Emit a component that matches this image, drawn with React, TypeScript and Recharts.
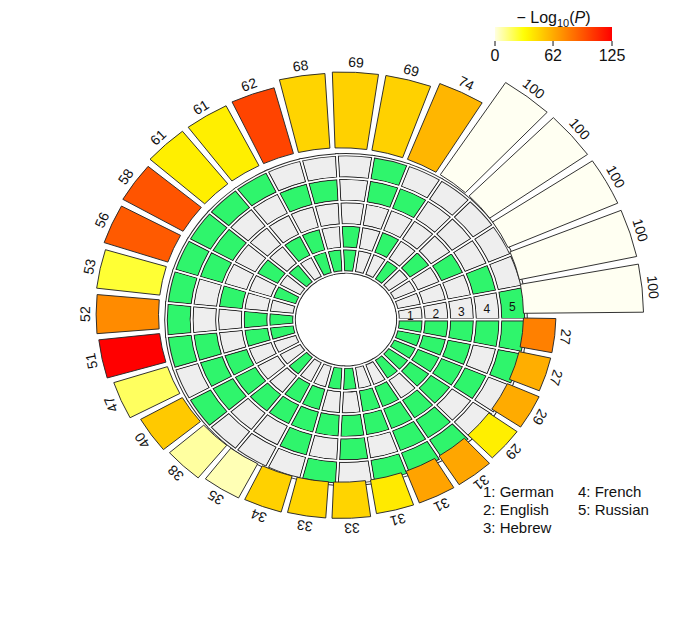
import React from 'react';
import {
  PieChart,
  Pie,
  Cell,
  RadialBarChart,
  RadialBar,
  PolarAngleAxis,
  PolarRadiusAxis,
  LabelList,
} from 'recharts';

const SET_NAMES = ['German', 'English', 'Hebrew', 'French', 'Russian'];

// intersection sizes, clockwise from 3 o'clock
const SIZES = [
  27, 27, 29, 29, 31, 31, 31, 33, 33, 34, 35, 38, 40, 47, 51, 52, 53, 56, 58, 61, 61, 62, 68, 69, 69,
  74, 100, 100, 100, 100, 100,
];

// membership per intersection: track 1 (inner) .. track 5 (outer)
const CODES = [
  '11111', '11101', '11110', '11100', '10111', '01111', '01101', '10110', '10101', '01110', '01100',
  '10100', '00111', '00110', '11011', '11001', '00101', '10011', '01011', '10001', '01001', '11010',
  '10010', '11000', '00011', '01010', '10000', '01000', '00100', '00010', '00001',
];

// -log10(P) (null = single set, no test)
const LOG_P = [
  78, 61, 62, 37, 64, 65, 39, 47, 47, 48, 6, 9, 51, 18, 125, 74, 24, 92, 94, 37, 37, 100, 47, 48, 48,
  58, null, null, null, null, null,
];

const P_TICKS = [0, 62, 125];

const W = 682;
const H = 630;
const CX = 341;
const CY = 315;
// the original plot region is not square, so the circle comes out squashed vertically
const K = 0.916;
const TRACK_INNER = 52;
const TRACK_OUTER = 180;
const BAR_BASE = 182.5;
const BAR_TOP = 302.5;
const RAD = Math.PI / 180;

const GREEN = '#2ff56c';
const GRAY = '#eeeeee';
const FONT = '"Liberation Sans", Arial, Helvetica, sans-serif';

const P_MAX = P_TICKS[P_TICKS.length - 1];

// reversed heat colours: pale -> yellow -> orange -> red
function heatColor(v: number | null): string {
  if (v == null) return '#fffff2';
  const f = Math.max(0, Math.min(1, v / P_MAX));
  if (f < 0.25) {
    const s = 0.12 + 0.88 * (f / 0.25);
    return `rgb(255,255,${Math.round(255 * (1 - s))})`;
  }
  const hue = 60 * (1 - (f - 0.25) / 0.75);
  return `rgb(255,${Math.round((255 * hue) / 60)},0)`;
}

const ringWidth = (TRACK_OUTER - TRACK_INNER) / SET_NAMES.length;
// the radial bar chart's category axis puts the first band one step counter-clockwise
const BAND = 360 / SIZES.length;

const tracks = SET_NAMES.map((_, t) =>
  CODES.map((code, i) => ({ name: `i${i}`, value: 1, member: code[t] === '1' }))
);

const barData = SIZES.map((size, i) => ({ name: `i${i}`, size, logP: LOG_P[i] }));

const squash = {
  position: 'absolute' as const,
  left: 0,
  top: 0,
  transform: `scaleY(${K})`,
  transformOrigin: `${CX}px ${CY}px`,
};

// text inside the squashed charts, drawn upright again
function Upright({ x, y, rot = 0, size, children }: any) {
  return (
    <g transform={`translate(${x} ${y}) scale(1 ${1 / K}) rotate(${rot})`}>
      <text x={0} y={0} textAnchor="middle" dominantBaseline="central" fontSize={size} fontFamily={FONT} fill="#111">
        {children}
      </text>
    </g>
  );
}

function BarLabel(props: any) {
  const vb = props.viewBox ?? props;
  const { cx, cy, outerRadius, startAngle, endAngle } = vb;
  if (cx == null || outerRadius == null) return null;
  const mid = (startAngle + endAngle) / 2;
  const r = outerRadius + 11;
  const x = cx + r * Math.cos(-mid * RAD);
  const y = cy + r * Math.sin(-mid * RAD);
  return (
    <Upright x={x} y={y} rot={90 - mid} size={14}>
      {props.value}
    </Upright>
  );
}

// set numbers written into the cells of the last (single set) intersection
function trackLabel(t: number) {
  return (p: any) => {
    if (p.index !== SIZES.length - 1) return null;
    const r = (p.innerRadius + p.outerRadius) / 2;
    const x = p.cx + r * Math.cos(-p.midAngle * RAD);
    const y = p.cy + r * Math.sin(-p.midAngle * RAD) + 3;
    return (
      <Upright x={x} y={y} size={12}>
        {t + 1}
      </Upright>
    );
  };
}

function Legend() {
  const stops = Array.from({ length: 26 }, (_, k) => k / 25);
  const x0 = 495;
  const x1 = 612;
  const xOf = (v: number) => x0 + ((x1 - x0) * v) / P_MAX;
  return (
    <svg width={W} height={H} style={{ position: 'absolute', left: 0, top: 0, pointerEvents: 'none' }}>
      <defs>
        <linearGradient id="heat" x1="0" x2="1" y1="0" y2="0">
          {stops.map((f) => (
            <stop key={f} offset={f} stopColor={heatColor(f * P_MAX)} />
          ))}
        </linearGradient>
      </defs>
      <text x={(x0 + x1) / 2} y={23} textAnchor="middle" fontSize={16} fontFamily={FONT} fill="#111">
        − Log
        <tspan fontSize={11} dy={4}>
          10
        </tspan>
        <tspan dy={-4}>(</tspan>
        <tspan fontStyle="italic">P</tspan>)
      </text>
      <rect x={x0} y={27} width={x1 - x0} height={14} fill="url(#heat)" />
      {P_TICKS.map((v) => (
        <g key={v}>
          <line x1={xOf(v)} x2={xOf(v)} y1={41} y2={46} stroke="#111" strokeWidth={1} />
          <text x={xOf(v)} y={61} textAnchor="middle" fontSize={16} fontFamily={FONT} fill="#111">
            {v}
          </text>
        </g>
      ))}
      {SET_NAMES.map((name, i) => (
        <text
          key={name}
          x={i < 3 ? 483 : 578}
          y={497 + (i % 3) * 18}
          fontSize={15}
          fontFamily={FONT}
          fill="#111"
        >
          {`${i + 1}: ${name}`}
        </text>
      ))}
    </svg>
  );
}

export default function App() {
  return (
    <div style={{ position: 'absolute', left: 0, top: 0, width: W, height: H, background: '#fff' }}>
      <div style={squash}>
        <PieChart width={W} height={H}>
          {tracks.map((data, t) => (
            <Pie
              key={`fill${t}`}
              data={data}
              dataKey="value"
              cx={CX}
              cy={CY}
              innerRadius={TRACK_INNER + t * ringWidth}
              outerRadius={TRACK_INNER + (t + 1) * ringWidth}
              startAngle={0}
              endAngle={-360}
              stroke="none"
              isAnimationActive={false}
            >
              {data.map((d, i) => (
                <Cell key={i} fill={d.member ? GREEN : GRAY} />
              ))}
            </Pie>
          ))}
          {tracks.map((data, t) => (
            <Pie
              key={`edge${t}`}
              data={data}
              dataKey="value"
              cx={CX}
              cy={CY}
              innerRadius={TRACK_INNER + t * ringWidth}
              outerRadius={TRACK_INNER + (t + 1) * ringWidth}
              startAngle={0}
              endAngle={-360}
              fill="none"
              stroke="#2a2a2a"
              strokeWidth={3.6}
              isAnimationActive={false}
            />
          ))}
          {tracks.map((data, t) => (
            <Pie
              key={`gap${t}`}
              data={data}
              dataKey="value"
              cx={CX}
              cy={CY}
              innerRadius={TRACK_INNER + t * ringWidth}
              outerRadius={TRACK_INNER + (t + 1) * ringWidth}
              startAngle={0}
              endAngle={-360}
              fill="none"
              stroke="#ffffff"
              strokeWidth={1.6}
              label={trackLabel(t)}
              labelLine={false}
              isAnimationActive={false}
            />
          ))}
        </PieChart>
      </div>
      <div style={squash}>
        <RadialBarChart
          width={W}
          height={H}
          cx={CX}
          cy={CY}
          innerRadius={BAR_BASE}
          outerRadius={BAR_TOP}
          startAngle={-BAND}
          endAngle={-360 - BAND}
          data={barData}
          layout="centric"
          barCategoryGap="5%"
        >
          <PolarAngleAxis type="category" dataKey="name" tick={false} axisLine={false} tickLine={false} />
          <PolarRadiusAxis type="number" domain={[0, 100]} tick={false} axisLine={false} tickLine={false} />
          <RadialBar dataKey="size" stroke="#2a2a2a" strokeWidth={1} isAnimationActive={false}>
            {barData.map((d, i) => (
              <Cell key={i} fill={heatColor(d.logP)} />
            ))}
            <LabelList dataKey="size" content={BarLabel} />
          </RadialBar>
        </RadialBarChart>
      </div>
      <Legend />
    </div>
  );
}
